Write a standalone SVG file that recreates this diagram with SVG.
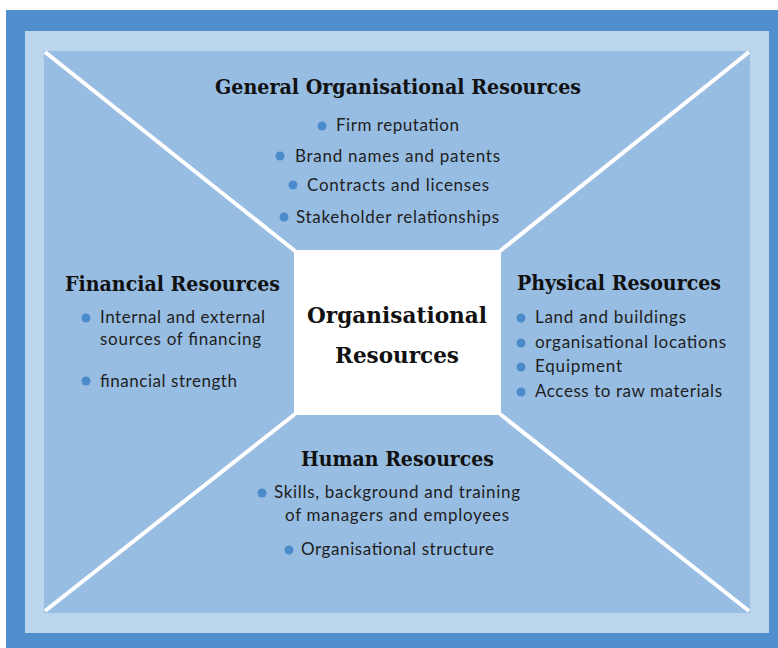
<svg xmlns="http://www.w3.org/2000/svg" width="778" height="648" viewBox="0 0 778 648">
<style>
.h{font-family:"DejaVu Serif","Liberation Serif",serif;font-weight:bold;font-size:21px;fill:#111;}
.c{font-family:"DejaVu Serif","Liberation Serif",serif;font-weight:bold;font-size:23px;fill:#111;}
.t{font-family:Lato,"Open Sans",sans-serif;font-size:17px;fill:#1e1e1e;}
.b{fill:#4C8BCB;}
.ln{stroke:#fff;stroke-width:4;fill:none;}
</style>
<rect x="6" y="10" width="772" height="638" fill="#4F8FCD"/>
<rect x="25" y="31" width="744" height="602" fill="#BBD5EC"/>
<rect x="44" y="51" width="706" height="562" fill="#98BDE2"/>
<g id="connectors">
<line class="ln" x1="45" y1="52" x2="295" y2="251"/>
<line class="ln" x1="749" y1="52" x2="500" y2="251"/>
<line class="ln" x1="45" y1="611" x2="295" y2="414"/>
<line class="ln" x1="749" y1="611" x2="500" y2="414"/>
</g>
<g id="center">
<rect x="294" y="250" width="207" height="165" fill="#fff"/>
<text class="c" x="397" y="323" text-anchor="middle" textLength="180" lengthAdjust="spacingAndGlyphs">Organisational</text>
<text class="c" x="397" y="363" text-anchor="middle" textLength="124" lengthAdjust="spacingAndGlyphs">Resources</text>
</g>
<g id="general">
<text class="h" x="398" y="94" text-anchor="middle" textLength="366" lengthAdjust="spacingAndGlyphs">General Organisational Resources</text>
<circle class="b" cx="322" cy="126" r="4.5"/>
<text class="t" x="336" y="131" textLength="123">Firm reputation</text>
<circle class="b" cx="280" cy="156" r="4.5"/>
<text class="t" x="295" y="162" textLength="205">Brand names and patents</text>
<circle class="b" cx="293" cy="185" r="4.5"/>
<text class="t" x="307" y="191" textLength="182">Contracts and licenses</text>
<circle class="b" cx="284" cy="217" r="4.5"/>
<text class="t" x="296" y="223" textLength="203">Stakeholder relationships</text>
</g>
<g id="financial">
<text class="h" x="65" y="291" textLength="215" lengthAdjust="spacingAndGlyphs">Financial Resources</text>
<circle class="b" cx="86" cy="318" r="4.5"/>
<text class="t" x="100" y="323" textLength="165">Internal and external</text>
<text class="t" x="100" y="345" textLength="161">sources of financing</text>
<circle class="b" cx="86" cy="381" r="4.5"/>
<text class="t" x="100" y="387" textLength="137">financial strength</text>
</g>
<g id="physical">
<text class="h" x="517" y="290" textLength="204" lengthAdjust="spacingAndGlyphs">Physical Resources</text>
<circle class="b" cx="521" cy="318" r="4.5"/>
<text class="t" x="535" y="323" textLength="151">Land and buildings</text>
<circle class="b" cx="521" cy="343" r="4.5"/>
<text class="t" x="535" y="348" textLength="191">organisational locations</text>
<circle class="b" cx="521" cy="367" r="4.5"/>
<text class="t" x="535" y="372" textLength="87">Equipment</text>
<circle class="b" cx="521" cy="392" r="4.5"/>
<text class="t" x="535" y="397" textLength="187">Access to raw materials</text>
</g>
<g id="human">
<text class="h" x="301" y="466" textLength="193" lengthAdjust="spacingAndGlyphs">Human Resources</text>
<circle class="b" cx="262" cy="493" r="4.5"/>
<text class="t" x="274" y="498" textLength="246">Skills, background and training</text>
<text class="t" x="285" y="521" textLength="224">of managers and employees</text>
<circle class="b" cx="289" cy="550" r="4.5"/>
<text class="t" x="301" y="555" textLength="193">Organisational structure</text>
</g>
</svg>
